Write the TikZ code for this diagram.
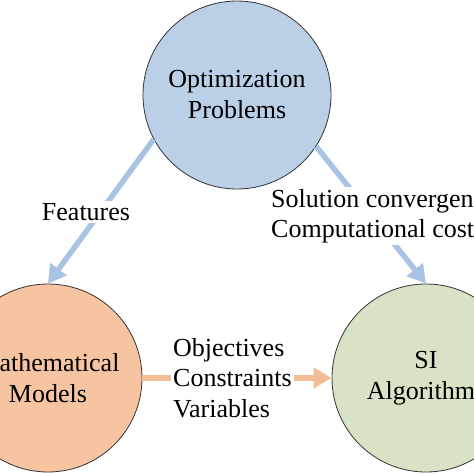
\documentclass[tikz,border=0pt]{standalone}
\usepackage{fontspec}
\setmainfont{Liberation Serif}
\usetikzlibrary{arrows.meta}

\definecolor{optblue}{RGB}{187,208,230}
\definecolor{modorange}{RGB}{246,196,160}
\definecolor{algogreen}{RGB}{216,226,198}
\definecolor{linkblue}{RGB}{169,196,226}
\definecolor{linkorange}{RGB}{243,190,150}

\begin{document}
\begin{tikzpicture}
    [
        x=1pt, y=-1pt,
        topic/.style={circle, draw=black!80, line width=0.8pt,
                      minimum size=188pt, inner sep=0pt, align=center,
                      font=\fontsize{26}{31}\selectfont, fill=#1},
        link/.style={line width=5.5pt, draw=#1,
                     -{Triangle[width=20pt, length=18pt]}},
        tag/.style={fill=white, inner sep=2pt, align=left,
                    font=\fontsize{26}{30.5}\selectfont}
    ]
    \clip (0,0) rectangle (474,474);
    \node (opt) [topic=optblue] at (237,95) {Optimization\\Problems};
    \node (mod) [topic=modorange] at (48,378) {Mathematical\\Models};
    \node (algo) [topic=algogreen] at (426,378) {SI\\Algorithms};
    \draw [link=linkblue] (opt.208) -- (mod.north);
    \draw [link=linkblue] (opt.327) -- (algo.north);
    \draw [link=linkorange] (mod.east) -- (algo.west);
    \node (feat) [tag] at (86,212) {Features};
    \node (conv) [tag, anchor=west] at (269,216) {Solution convergence\\Computational cost};
    \node (obj) [tag, anchor=west] at (171,378) {Objectives\\Constraints\\Variables};
\end{tikzpicture}
\end{document}
